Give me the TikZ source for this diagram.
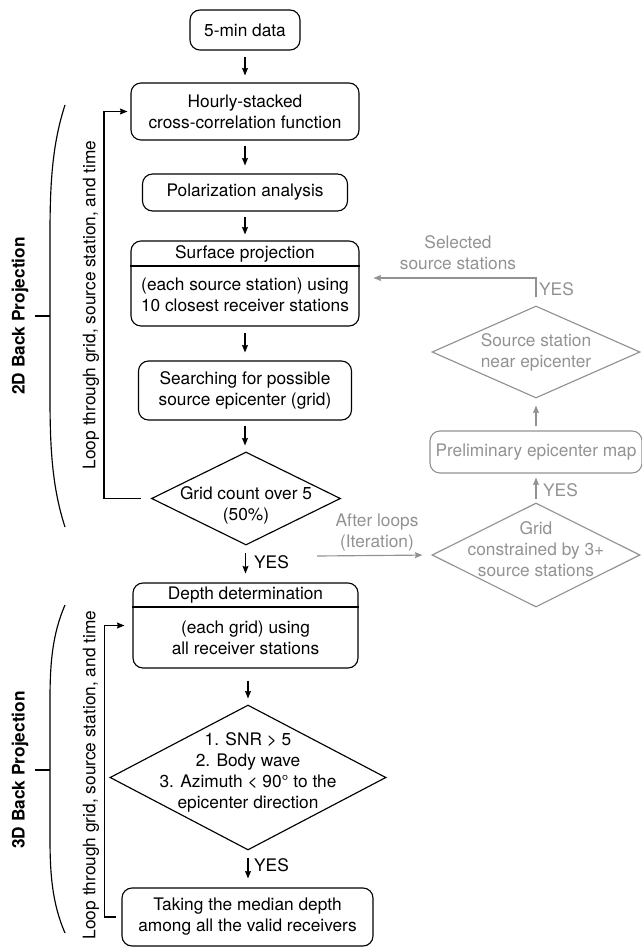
\documentclass[tikz,border=0pt]{standalone}
\usepackage{fontspec}
\setmainfont{TeX Gyre Heros}
\usetikzlibrary{arrows.meta,shapes.geometric}
\definecolor{lg}{HTML}{929292}
\begin{document}
\begin{tikzpicture}[x=1pt,y=-1pt,
  font=\fontsize{17.3}{21}\selectfont,
  every node/.style={align=center, inner sep=0pt},
  box/.style={draw, rounded corners=10pt, line width=1.15pt},
  gbox/.style={draw=lg, text=lg, rounded corners=10pt, line width=1.15pt},
  dia/.style={draw, diamond, line width=1.15pt, inner sep=0pt},
  gdia/.style={draw=lg, diamond, line width=1.15pt, inner sep=0pt},
  arr/.style={-{Stealth[length=7.5pt,width=6pt,inset=1pt]}, line width=1.15pt},
  garr/.style={draw=lg, -{Stealth[length=7.5pt,width=6pt,inset=1pt]}, line width=1.15pt, lg},
  gtext/.style={text=lg},
  brk/.style={line width=1.15pt}
]
\useasboundingbox (0,0) rectangle (641,949);

% main column
\node[box, minimum width=110pt, minimum height=40pt] (data) at (245,30) {5-min data};
\node[box, minimum width=228pt, minimum height=57pt] (hourly) at (245,111.5) {Hourly-stacked\\cross-correlation function};
\node[box, minimum width=205pt, minimum height=37pt] (polar) at (245,192.5) {Polarization analysis};
\node[box, minimum width=228pt, minimum height=85pt] (surf) at (245,283.5) {};
\node (surfh) at (245,253.5) {Surface projection};
\node (surfb) at (245,295) {(each source station) using\\10 closest receiver stations};
\draw[line width=1.15pt] ([yshift=17.5pt]surf.west) -- ([yshift=17.5pt]surf.east);
\node[box, minimum width=213pt, minimum height=59pt] (search) at (245,390.5) {Searching for possible\\source epicenter (grid)};
\node[dia, minimum width=189pt, minimum height=93pt] (d1) at (246,498.5) {};
\node (d1t) at (246,505) {Grid count over 5\\(50\%)};
\node[box, minimum width=225pt, minimum height=85pt] (depth) at (245.5,625.5) {};
\node (depthh) at (245.5,595.5) {Depth determination};
\node (depthb) at (245.5,637.5) {(each grid) using\\all receiver stations};
\draw[line width=1.15pt] ([yshift=18.5pt]depth.west) -- ([yshift=18.5pt]depth.east);
\node[dia, minimum width=276pt, minimum height=145pt] (d2) at (248,777.5) {};
\node (d2t) at (248,772) {1. SNR > 5\\2. Body wave\\3. Azimuth < 90° to the\\epicenter direction};
\node[box, minimum width=251pt, minimum height=58pt] (take) at (247.5,917) {Taking the median depth\\among all the valid receivers};

% main arrows
\draw[arr, shorten <=6pt, shorten >=7pt] (data.south) -- (hourly.north);
\draw[arr, shorten <=5pt, shorten >=8pt] (hourly.south) -- (polar.north);
\draw[arr, shorten <=5pt, shorten >=6pt] (polar.south) -- (surf.north);
\draw[arr, shorten <=6pt, shorten >=8pt] (surf.south) -- (search.north);
\draw[arr, shorten <=5pt, shorten >=6pt] (search.south) -- (search.south |- d1.north);
\draw[arr, shorten <=7pt, shorten >=9pt] (d1.south -| depth.north) -- (depth.north);
\draw[arr, shorten <=12pt, shorten >=6pt] (depth.south -| d2.north) -- (d2.north);
\draw[arr, shorten <=7pt, shorten >=9pt] (d2.south) -- (d2.south |- take.north);
\node[anchor=west] (yes1) at (254,562) {YES};
\node[anchor=west] (yes2) at (254,865) {YES};

% loops
\draw[arr, shorten <=10pt, shorten >=3pt] (d1.west) -- ++(-47,0) |- (hourly.west);
\draw[arr, shorten <=5pt, shorten >=8pt] (take.west) -- ++(-17,0) |- (depth.west);
\node[rotate=90] (loop2) at (91,305) {Loop through grid, source station, and time};
\node[rotate=90] (loop3) at (91,775) {Loop through grid, source station, and time};

% brackets
\node[rotate=90, font=\fontsize{17.3}{21}\selectfont\bfseries] (lab2) at (20,316) {2D Back Projection};
\node[rotate=90, font=\fontsize{17.3}{21}\selectfont\bfseries] (lab3) at (20,770) {3D Back Projection};
\draw[brk] (65,105) .. controls (52,145) and (50,185) .. (50,235) -- (50,397) .. controls (50,447) and (52,487) .. (65,527);
\draw[brk] (50,316) -- (35,316);
\draw[brk] (65,605) .. controls (52,635) and (50,665) .. (50,700) -- (50,838) .. controls (50,873) and (52,903) .. (65,933);
\draw[brk] (50,770) -- (35,770);

% gray branch
\node[gdia, minimum width=208pt, minimum height=92pt] (d3) at (536,352) {};
\node[gtext] (d3t) at (536,352) {Source station\\near epicenter};
\node[gbox, minimum width=212pt, minimum height=42pt] (prelim) at (536,452) {Preliminary epicenter map};
\node[gdia, minimum width=208pt, minimum height=104pt] (d4) at (536,555) {};
\node[gtext] (d4t) at (536,549) {Grid\\constrained by 3+\\source stations};
\node[gtext] (sel) at (458,253) {Selected\\source stations};
\node[gtext] (aft) at (377,532) {After loops\\(Iteration)};
\node[gtext, anchor=west] (gyes1) at (539,289) {YES};
\node[gtext, anchor=west] (gyes2) at (543,490) {YES};
\coordinate (aftstart) at (317,556);
\coordinate (selpt) at (536,278);
\draw[garr, shorten >=9pt] (aftstart) -- (d4.west);
\draw[garr, shorten <=3pt, shorten >=4pt] (d4.north) -- (d4.north |- prelim.south);
\draw[garr, shorten <=4pt, shorten >=7pt] (prelim.north -| d3.south) -- (d3.south);
\draw[garr, shorten <=8pt, shorten >=14pt] (d3.north) -- (selpt) -- (surf.east |- selpt);
\end{tikzpicture}
\end{document}
